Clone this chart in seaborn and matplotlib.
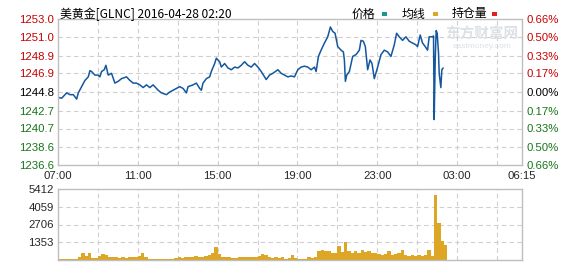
import matplotlib
matplotlib.use("Agg")
import numpy as np
import pandas as pd
import seaborn as sns
import matplotlib.pyplot as plt
from matplotlib.patches import Rectangle

# ---------------- data ----------------
title_text = "美黄金[GLNC] 2016-04-28 02:20"
legend_labels = ["价格", "均线", "持仓量"]

# minutes after 07:00
price_minutes = [0, 11, 26, 36, 46, 56, 61, 71, 81, 91, 96, 101, 111, 121, 126, 131, 139, 144,
                 151, 161, 171, 181, 191, 206, 216, 226, 236, 246, 256, 266, 276, 286,
                 301, 311, 326, 336, 351, 366, 376, 386, 391, 406, 416, 426, 431, 436, 446,
                 456, 461, 471, 476, 486, 491, 501, 511, 521, 531, 541, 551, 561, 571,
                 581, 591, 601, 611, 621, 626, 636, 646, 661, 671, 681, 691, 701, 711, 721,
                 731, 741, 751, 761, 771, 776, 783, 791, 801, 811, 819, 826, 833, 841, 851, 858,
                 861, 864, 868, 876, 886, 896, 906, 911, 918, 924, 931, 938, 944, 951, 961,
                 971, 981, 991, 1001, 1011, 1018, 1026, 1036, 1046, 1056, 1066, 1076, 1081,
                 1089, 1096, 1104, 1111, 1116, 1126, 1129, 1131, 1134, 1137, 1140, 1144, 1146,
                 1151, 1154, 1158]
price_values = [1244.2, 1244.1, 1244.7, 1244.5, 1244.5, 1244.0, 1244.7, 1245.4, 1246.1, 1246.5,
                1247.2, 1247.1, 1246.7, 1246.7, 1246.5, 1247.1, 1247.3, 1247.8,
                1246.7, 1246.9, 1245.8, 1246.0, 1246.3, 1246.5, 1246.1, 1245.8, 1245.8, 1245.6,
                1245.3, 1245.6, 1245.3, 1245.6,
                1245.0, 1244.7, 1244.5, 1244.8, 1245.1, 1245.4, 1245.2, 1244.7, 1245.4, 1245.6,
                1245.8, 1245.2, 1245.0, 1245.8, 1246.3,
                1246.5, 1247.1, 1248.0, 1248.6, 1248.2, 1247.6, 1248.0, 1247.5, 1247.3, 1247.6,
                1247.5, 1247.8, 1248.2, 1247.8,
                1247.6, 1248.0, 1247.6, 1247.1, 1246.5, 1246.2, 1246.7, 1246.9, 1247.3, 1246.9,
                1246.7, 1246.5, 1246.6, 1246.5, 1247.3,
                1247.6, 1247.7, 1247.6, 1247.3, 1247.6, 1247.1, 1248.8, 1249.5, 1250.3, 1251.0,
                1252.1, 1251.6, 1251.4, 1249.9, 1249.5, 1249.3,
                1248.4, 1246.0, 1246.7, 1247.1, 1248.8, 1249.0, 1249.5, 1250.6, 1250.5, 1249.9,
                1247.3, 1248.4, 1248.0, 1246.3, 1247.6,
                1249.0, 1249.5, 1249.3, 1248.8, 1250.1, 1251.4, 1251.0, 1250.6, 1251.0, 1250.5,
                1250.3, 1250.1, 1249.9,
                1251.2, 1250.3, 1249.9, 1249.5, 1251.0, 1251.0, 1251.1, 1241.7, 1248.4, 1251.7,
                1251.4, 1249.2, 1246.9,
                1245.3, 1247.3, 1247.5]

# volume per 10-minute slot starting at 07:00
volume_values = [80, 60, 80, 100, 80, 100,
                 250, 550, 300, 500,
                 150, 150,
                 300, 450, 350, 250,
                 200, 250, 150, 200, 150, 200, 250, 200, 300,
                 550, 250,
                 60, 60, 60, 50, 60, 60, 50, 60,
                 150, 200, 150, 250, 200, 250, 300, 250, 200, 300, 350,
                 500, 1000, 450,
                 250, 200, 200, 150, 150, 200, 200, 250, 200, 200, 250, 300,
                 450, 350, 250,
                 150, 200, 150, 200, 100, 150, 350, 150, 100,
                 100, 100, 200, 150, 200,
                 700, 800, 650, 700,
                 550, 500, 1100, 600, 1350,
                 650, 550, 700, 500, 750, 600, 650, 500,
                 550, 450, 400, 450, 700, 400, 450,
                 500, 750, 400, 300, 350, 300, 350, 300, 350, 750, 300,
                 4950, 2800, 1450, 1150]
volume_minutes = [10 * i + 5 for i in range(len(volume_values))]

price_ticks = [1236.6, 1238.6, 1240.7, 1242.7, 1244.8, 1246.9, 1248.9, 1251.0, 1253.0]
price_tick_labels = ["1236.6", "1238.6", "1240.7", "1242.7", "1244.8", "1246.9", "1248.9", "1251.0", "1253.0"]
pct_tick_labels = ["0.66%", "0.50%", "0.33%", "0.17%", "0.00%", "0.17%", "0.33%", "0.50%", "0.66%"]
vol_ticks = [1353, 2706, 4059, 5412]
vol_tick_labels = ["1353", "2706", "4059", "5412"]
x_label_minutes = [0, 240, 480, 720, 960, 1200, 1395]
x_labels = ["07:00", "11:00", "15:00", "19:00", "23:00", "03:00", "06:15"]
grid_minutes = [120, 240, 360, 480, 600, 720, 840, 960, 1080, 1200, 1320]

# ---------------- style ----------------
sns.set_theme(style="white")
plt.rcParams['font.family'] = ['Liberation Sans', 'Noto Sans CJK SC', 'DejaVu Sans']

W, H = 578, 276
fig = plt.figure(figsize=(W / 100, H / 100), dpi=100)
fig.patch.set_facecolor("white")

L, R = 58, 522
ax = fig.add_axes([L / W, 1 - 165 / H, (R - L) / W, (165 - 19) / H])
axv = fig.add_axes([L / W, 1 - 260 / H, (R - L) / W, (260 - 189) / H])

LINE = "#14579E"
GOLD = "#DDA624"
RED = "#C80000"
GREEN = "#16761A"
FRAME = "#BEBEBE"
GRID = "#CFCFCF"

def tick_color(i):
    if i > 4:
        return RED
    if i < 4:
        return GREEN
    return "black"

# ---- price panel ----
dfp = pd.DataFrame({"t": price_minutes, "p": price_values})
sns.lineplot(data=dfp, x="t", y="p", ax=ax, color=LINE, linewidth=1.1)
ax.set_xlim(0, 1395)
ax.set_ylim(price_ticks[0], price_ticks[-1])
for g in grid_minutes:
    ax.axvline(g, color=GRID, lw=0.8, ls=(0, (4, 3)), zorder=0)
for yv in price_ticks[1:-1]:
    ax.axhline(yv, color=GRID, lw=0.8, ls=(0, (4, 3)), zorder=0)
ax.set_yticks(price_ticks)
ax.set_yticklabels(price_tick_labels)
for i, lab in enumerate(ax.get_yticklabels()):
    lab.set_color(tick_color(i))
ax.tick_params(axis="y", length=0, pad=3, labelsize=8.2)
ax.set_xticks(x_label_minutes)
ax.set_xticklabels(x_labels)
ax.tick_params(axis="x", length=0, pad=4, labelsize=8.2)
ax.set_xlabel("")
ax.set_ylabel("")
for s in ax.spines.values():
    s.set_color(FRAME)
    s.set_linewidth(1)

ax2 = ax.twinx()
ax2.set_ylim(price_ticks[0], price_ticks[-1])
ax2.set_yticks(price_ticks)
ax2.set_yticklabels(pct_tick_labels)
for i, lab in enumerate(ax2.get_yticklabels()):
    lab.set_color(tick_color(i))
ax2.tick_params(axis="y", length=0, pad=3, labelsize=8.2)
for s in ax2.spines.values():
    s.set_visible(False)

# ---- volume panel ----
dfv = pd.DataFrame({"t": volume_minutes, "v": volume_values})
sns.histplot(data=dfv, x="t", weights="v", binwidth=10, binrange=(0, 10 * len(volume_values)),
             ax=axv, color=GOLD, alpha=1, linewidth=0, element="bars")
axv.set_xlim(0, 1395)
axv.set_ylim(0, 5412)
for g in grid_minutes:
    axv.axvline(g, color=GRID, lw=0.8, ls=(0, (4, 3)), zorder=0)
for yv in vol_ticks[:-1]:
    axv.axhline(yv, color=GRID, lw=0.8, ls=(0, (4, 3)), zorder=0)
axv.set_yticks(vol_ticks)
axv.set_yticklabels(vol_tick_labels)
axv.tick_params(axis="y", length=0, pad=3, labelsize=8.2)
axv.set_xticks([])
axv.set_xlabel("")
axv.set_ylabel("")
for s in axv.spines.values():
    s.set_color(FRAME)
    s.set_linewidth(1)

# ---- header ----
cjk = ['Noto Sans CJK SC', 'DejaVu Sans']
fig.text(60 / W, 1 - 14 / H, title_text, fontsize=8.6, va="center", ha="left", family=cjk, color="black")
leg_x = [352, 402, 452]
sq_x = [382, 433, 492]
leg_cols = ["#1A9A8C", GOLD, "#E41F1F"]
for lx, sx, lab, c in zip(leg_x, sq_x, legend_labels, leg_cols):
    fig.text(lx / W, 1 - 14 / H, lab, fontsize=8.6, va="center", ha="left", family=cjk, color="black")
    fig.patches.append(Rectangle((sx / W, 1 - 16 / H), 5 / W, 4 / H, transform=fig.transFigure,
                                 facecolor=c, edgecolor="none", figure=fig))

# watermark
fig.text(482 / W, 1 - 34 / H, "东方财富网", fontsize=10.5, va="center", ha="center", family=cjk,
         color="#DDE1E6", fontweight="bold", zorder=0)
fig.text(482 / W, 1 - 46 / H, "eastmoney.com", fontsize=6, va="center", ha="center",
         color="#DDE1E6", zorder=0)

fig.savefig("out.png", dpi=100, facecolor="white")
